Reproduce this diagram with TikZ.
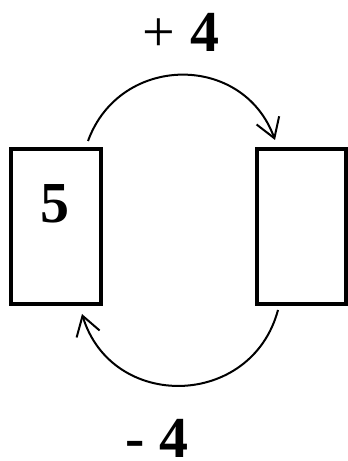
\documentclass[tikz,border=0pt]{standalone}
\usepackage{fontspec}
\setmainfont{Liberation Serif}
\usetikzlibrary{arrows.meta}
\begin{document}
\begin{tikzpicture}[x=1pt,y=1pt,
  card/.style={draw, line width=4pt, inner sep=0pt, minimum width=90pt, minimum height=155pt},
  num/.style={font=\fontsize{58}{60}\selectfont\bfseries, inner sep=0pt, anchor=base},
  swap/.style={line width=2pt, -{Straight Barb[length=19pt,width=24pt,line width=2pt]}}]
\useasboundingbox (0,0) rectangle (348,461);
\node[num] (five) at (55,238) {5};
\node[card] (L) at (56,234) {};
\node[card, minimum width=89pt] (R) at (301.5,234) {};
\node[num] (plus) at (181,409) {{\mdseries +} 4};
\node[num] (minus) at (157,4) {- 4};
\coordinate (ts) at ([shift={(32,6.5)}]L.north);
\coordinate (te) at ([shift={(-26.5,7.5)}]R.north);
\coordinate (bs) at ([shift={(-23.5,-3.5)}]R.south);
\coordinate (be) at ([shift={(26,-7.5)}]L.south);
\draw[swap] (ts) to[out=70, in=110, looseness=1.27] (te);
\draw[swap] (bs) to[out=-105, in=-73, looseness=1.33] (be);
\end{tikzpicture}
\end{document}
